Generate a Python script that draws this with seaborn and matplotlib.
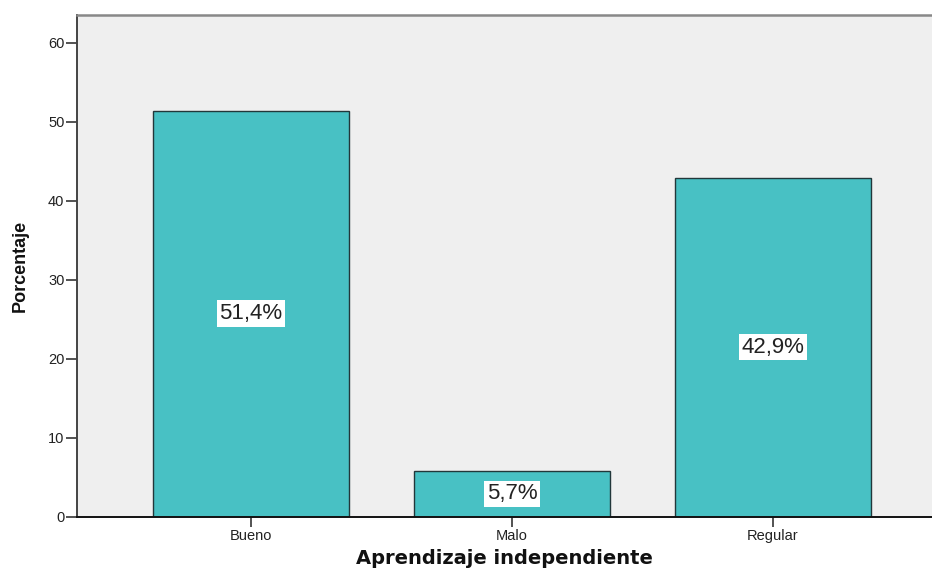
import matplotlib
matplotlib.use("Agg")
import matplotlib.pyplot as plt
import seaborn as sns
import pandas as pd

categories = ["Bueno", "Malo", "Regular"]
percentages = [51.4, 5.7, 42.9]
y_ticks = [0, 10, 20, 30, 40, 50, 60]

df = pd.DataFrame({"Aprendizaje independiente": categories, "Porcentaje": percentages})

sns.set_style("white")
plt.rcParams["font.family"] = ["Liberation Sans", "DejaVu Sans"]

fig = plt.figure(figsize=(9.32, 5.71), dpi=100)
ax = fig.add_axes([77 / 932, 54.5 / 571, 1 - 77 / 932, (516.5 - 15) / 571])
ax.set_facecolor("#EFEFEF")

sns.barplot(data=df, x="Aprendizaje independiente", y="Porcentaje", ax=ax,
            color="#48C1C4", saturation=1, edgecolor="#22373A", linewidth=1.0,
            width=0.75)

ax.set_xlim(-0.667, 2.61)
ax.set_ylim(0, 63.5)
ax.set_yticks(y_ticks)
ax.set_yticklabels([str(t) for t in y_ticks], fontsize=10.5, color="#222222")
ax.tick_params(axis="y", left=True, direction="out", length=8, width=1.3,
               color="#444444", pad=1)
ax.tick_params(axis="x", bottom=True, direction="out", length=7, width=1.3,
               color="#444444", labelsize=10.5, pad=2, labelcolor="#222222")

for side in ["left", "bottom", "top", "right"]:
    ax.spines[side].set_visible(True)
ax.spines["left"].set_color("#444444")
ax.spines["left"].set_linewidth(1.4)
ax.spines["bottom"].set_color("#111111")
ax.spines["bottom"].set_linewidth(1.4)
ax.spines["top"].set_color("#888888")
ax.spines["top"].set_linewidth(1.8)
ax.spines["right"].set_visible(False)

ax.set_xlabel("Aprendizaje independiente", fontsize=14, fontweight="bold",
              labelpad=4, family=["DejaVu Sans"], color="#111111")
ax.set_ylabel("Porcentaje", fontsize=13, fontweight="bold", labelpad=14,
              family=["Liberation Sans Narrow", "Liberation Sans"], color="#111111")

for i, v in enumerate(percentages):
    ax.text(i, v / 2, f"{v:.1f}".replace(".", ",") + "%", ha="center", va="center",
            fontsize=16, color="#222222",
            bbox=dict(boxstyle="square,pad=0.12", facecolor="white", edgecolor="none"))

fig.savefig("out.png", dpi=100)
